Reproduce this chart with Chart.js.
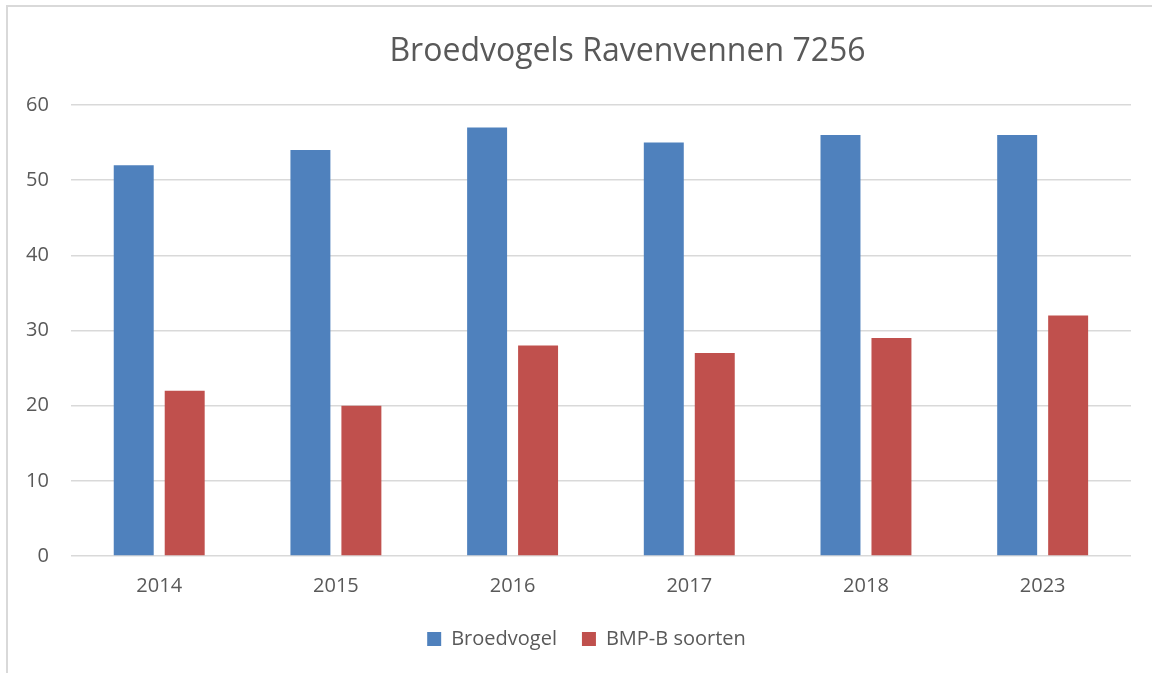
<!DOCTYPE html>
<html>
<head>
<meta charset="utf-8">
<script src="https://cdn.jsdelivr.net/npm/chart.js@4/dist/chart.umd.min.js"></script>
<style>
html,body{margin:0;padding:0;background:#fff;}
#wrap{position:absolute;left:0;top:0;width:1152px;height:673px;}
</style>
</head>
<body>
<div id="wrap"><canvas id="c" width="1152" height="673"></canvas></div>
<script>
const categories = ['2014', '2015', '2016', '2017', '2018', '2023'];
const broedvogel = [52, 54, 57, 55, 56, 56];
const bmpSoorten = [22, 20, 28, 27, 29, 32];
const seriesNames = ['Broedvogel', 'BMP-B soorten'];
const yTicks = [0, 10, 20, 30, 40, 50, 60];
const titleText = 'Broedvogels Ravenvennen 7256';

const FONT = "'Open Sans', 'Noto Sans', sans-serif";
const TXT = '#595959';

const framePlugin = {
  id: 'frame',
  beforeDraw(chart) {
    const ctx = chart.ctx;
    ctx.save();
    ctx.fillStyle = '#fff';
    ctx.fillRect(0, 0, chart.width, chart.height);
    ctx.strokeStyle = '#d9d9d9';
    ctx.lineWidth = 2;
    ctx.beginPath();
    ctx.moveTo(7, chart.height + 5);
    ctx.lineTo(7, 6);
    ctx.lineTo(chart.width + 5, 6);
    ctx.stroke();
    ctx.restore();
  },
  afterLayout(chart) {
    if (chart.titleBlock) { chart.titleBlock.left += 60; chart.titleBlock.right += 60; }
    if (chart.legend) { chart.legend.left += 19; chart.legend.right += 19; }
  }
};

new Chart(document.getElementById('c'), {
  type: 'bar',
  data: {
    labels: categories,
    datasets: [
      { label: seriesNames[0], data: broedvogel, backgroundColor: '#4f81bd', barPercentage: 0.784, categoryPercentage: 0.577 },
      { label: seriesNames[1], data: bmpSoorten, backgroundColor: '#c0504d', barPercentage: 0.784, categoryPercentage: 0.577 }
    ]
  },
  plugins: [framePlugin],
  options: {
    responsive: false,
    animation: false,
    devicePixelRatio: 1,
    layout: { padding: { left: 4, right: 21, top: 0, bottom: 14 } },
    plugins: {
      title: {
        display: true,
        text: titleText,
        color: TXT,
        font: { family: FONT, size: 32, weight: 'normal', lineHeight: 1.2 },
        padding: { top: 33, bottom: 33.6 }
      },
      legend: {
        position: 'bottom',
        labels: {
          color: TXT,
          font: { family: FONT, size: 20 },
          boxWidth: 14,
          boxHeight: 14,
          padding: 25
        }
      },
      tooltip: { enabled: false }
    },
    scales: {
      x: {
        grid: { display: false, drawTicks: false },
        border: { display: false },
        ticks: { color: TXT, font: { family: FONT, size: 20 }, padding: 18 },
        afterFit(axis) { axis.height = 48; }
      },
      y: {
        min: 0,
        max: 60,
        afterBuildTicks(axis) { axis.ticks = yTicks.map(v => ({ value: v })); },
        grid: { color: '#d9d9d9', lineWidth: 1.5, drawTicks: false },
        border: { display: false },
        ticks: { color: TXT, font: { family: FONT, size: 20 }, padding: 22 }
      }
    }
  }
});
</script>
</body>
</html>
